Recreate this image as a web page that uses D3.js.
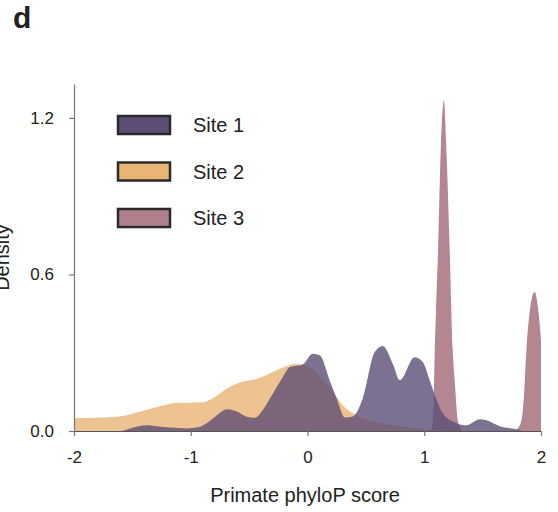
<!DOCTYPE html>
<html>
<head>
<meta charset="utf-8">
<script src="https://cdn.jsdelivr.net/npm/d3@7"></script>
<style>
  body { margin: 0; background: #fff; }
  text { font-family: "Liberation Sans", Arial, sans-serif; fill: #222; }
</style>
</head>
<body>
<div id="chart"></div>
<script>
// Density curves: [phyloP score, density]
const site1 = [
    [-2.0, 0], [-1.6, 0], [-1.52, 0.01], [-1.375, 0.022], [-1.29, 0.018], [-1.178, 0.013],
    [-1.033, 0.01], [-0.939, 0.014], [-0.862, 0.03], [-0.776, 0.06], [-0.69, 0.083],
    [-0.639, 0.08], [-0.605, 0.075], [-0.52, 0.055], [-0.45, 0.051], [-0.384, 0.08],
    [-0.296, 0.144], [-0.211, 0.207], [-0.151, 0.245], [-0.04, 0.255], [0.045, 0.296],
    [0.105, 0.29], [0.19, 0.194], [0.25, 0.125], [0.32, 0.052], [0.388, 0.056],
    [0.473, 0.125], [0.576, 0.303], [0.644, 0.326], [0.73, 0.258], [0.79, 0.195],
    [0.918, 0.283], [0.987, 0.264], [1.047, 0.194], [1.107, 0.118], [1.158, 0.068],
    [1.277, 0.03], [1.362, 0.022], [1.474, 0.045], [1.534, 0.041], [1.646, 0.018],
    [1.79, 0.007], [1.85, 0], [2.0, 0]
];
const site2 = [
    [-2.0, 0.049], [-1.607, 0.056], [-1.47, 0.07], [-1.239, 0.098], [-1.128, 0.107],
    [-0.896, 0.11], [-0.794, 0.13], [-0.69, 0.163], [-0.554, 0.19], [-0.451, 0.197],
    [-0.323, 0.22], [-0.211, 0.243], [-0.109, 0.258], [-0.04, 0.255], [0.05, 0.235],
    [0.12, 0.2], [0.19, 0.165], [0.25, 0.13], [0.30, 0.1], [0.39, 0.068], [0.5, 0.045],
    [0.7, 0.025], [0.9, 0.012], [1.1, 0.004], [1.3, 0], [2.0, 0]
];
const site3 = [
    [-2.0, 0], [1.0, 0], [1.05, 0], [1.07, 0.02], [1.08, 0.1], [1.09, 0.31], [1.10, 0.45],
    [1.118, 0.69], [1.141, 1.075], [1.168, 1.267], [1.19, 1.075], [1.218, 0.69],
    [1.244, 0.309], [1.261, 0.194], [1.287, 0.041], [1.31, 0.01], [1.33, 0],
    [1.776, 0], [1.801, 0.01], [1.832, 0.04], [1.852, 0.12], [1.875, 0.31],
    [1.918, 0.5], [1.946, 0.533], [1.972, 0.48], [2.0, 0.35]
];

const seriesNames = ["Site 1", "Site 2", "Site 3"];
const seriesData = [site1, site2, site3];
const seriesColors = ["#5d4e75", "#e8b575", "#b0808c"];
const seriesOpacity = [0.8, 0.8, 0.95];

const xTicks = [-2, -1, 0, 1, 2];
const xTickLabels = ["-2", "-1", "0", "1", "2"];
const yTicks = [0, 0.6, 1.2];
const yTickLabels = ["0.0", "0.6", "1.2"];

const width = 558, height = 512;
const margin = { left: 74, right: 17, top: 84, bottom: 81 };

const svg = d3.select("#chart")
    .append("svg")
    .attr("width", width)
    .attr("height", height);

const x = d3.scaleLinear()
    .domain([-2, 2])
    .range([margin.left, width - margin.right]);

const y = d3.scaleLinear()
    .domain([0, 1.33])
    .range([height - margin.bottom, margin.top]);

const area = d3.area()
    .x(d => x(d[0]))
    .y0(y(0))
    .y1(d => y(d[1]))
    .curve(d3.curveMonotoneX);

// site 3 underneath, site 1 on top
[2, 1, 0].forEach(i => {
    svg.append("path")
        .datum(seriesData[i])
        .attr("d", area)
        .attr("fill", seriesColors[i])
        .attr("fill-opacity", seriesOpacity[i]);
});

// axes
const xAxis = svg.append("g")
    .attr("transform", `translate(0,${y(0)})`)
    .call(d3.axisBottom(x).tickValues(xTicks)
        .tickFormat((d, i) => xTickLabels[i])
        .tickSizeInner(5).tickSizeOuter(0).tickPadding(15));

const yAxis = svg.append("g")
    .attr("transform", `translate(${margin.left},0)`)
    .call(d3.axisLeft(y).tickValues(yTicks)
        .tickFormat((d, i) => yTickLabels[i])
        .tickSizeInner(5).tickSizeOuter(0).tickPadding(15));

[xAxis, yAxis].forEach(g => {
    g.select(".domain").attr("stroke", "#777").attr("stroke-width", 1.2);
    g.selectAll(".tick line").attr("stroke", "#777").attr("stroke-width", 1.2);
    g.selectAll(".tick text")
        .attr("font-size", 17)
        .attr("font-family", "Liberation Sans, Arial, sans-serif")
        .attr("fill", "#222");
});
xAxis.select(".domain").attr("stroke", "#555");

// axis titles
svg.append("text")
    .attr("x", 305)
    .attr("y", 502)
    .attr("text-anchor", "middle")
    .attr("font-size", 20)
    .text("Primate phyloP score");

// y title sits partly off the left edge, as in the original figure
svg.append("text")
    .attr("transform", `translate(9,${(y(0) + y(1.33)) / 2}) rotate(-90)`)
    .attr("text-anchor", "middle")
    .attr("font-size", 20)
    .text("Density");

// panel letter
svg.append("text")
    .attr("x", 13)
    .attr("y", 28)
    .attr("font-size", 30)
    .attr("font-weight", "bold")
    .text("d");

// legend
const legend = svg.selectAll(".legend-item")
    .data(seriesNames)
    .join("g")
    .attr("class", "legend-item")
    .attr("transform", (d, i) => `translate(118,${116 + i * 46.5})`);

legend.append("rect")
    .attr("width", 52)
    .attr("height", 18)
    .attr("fill", (d, i) => seriesColors[i])
    .attr("stroke", "#2a2a2a")
    .attr("stroke-width", 2.5);

legend.append("text")
    .attr("x", 75)
    .attr("y", 16)
    .attr("font-size", 20)
    .text(d => d);
</script>
</body>
</html>
